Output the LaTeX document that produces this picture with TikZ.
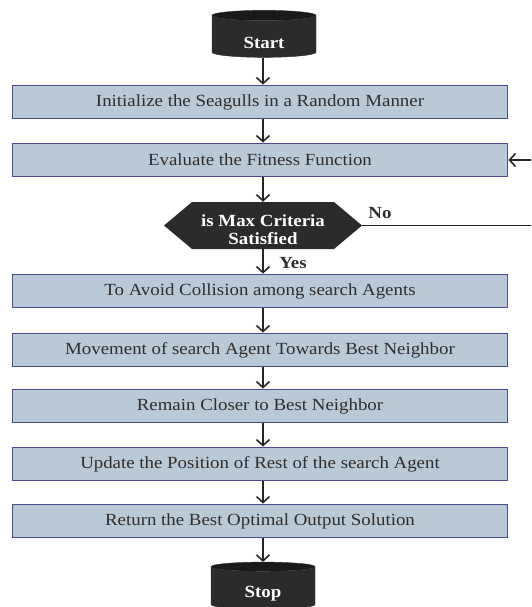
\documentclass[tikz,border=0pt]{standalone}
\usepackage{fontspec}
\setmainfont[FakeStretch=1.11]{Liberation Serif}
\usepackage{tikz}
\usetikzlibrary{shapes.geometric, shapes.symbols, arrows.meta}
\definecolor{boxfill}{HTML}{B9C9D6}
\definecolor{boxline}{HTML}{4B4B8F}
\definecolor{term}{HTML}{2B2B2B}
\definecolor{termtop}{HTML}{1A1A1A}
\definecolor{txt}{HTML}{2E2E2E}
\newcommand{\lowertext}[1]{\raisebox{0pt}[\dimexpr\height+12pt\relax]{#1}}

\begin{document}
\begin{tikzpicture}[x=1pt, y=-1pt,
  stepbox/.style={draw=boxline, line width=1.8pt, fill=boxfill, minimum width=495pt,
    minimum height=33pt, inner sep=0pt, text=txt, font=\fontsize{17}{19}\selectfont},
  terminal/.style={cylinder, shape border rotate=90, aspect=0.25, draw=term,
    cylinder uses custom fill, cylinder body fill=term, cylinder end fill=termtop,
    minimum width=104pt, minimum height=47pt, inner sep=0pt, text=white,
    font=\bfseries\fontsize{17}{19}\selectfont},
  decision/.style={signal, signal to=east and west, signal pointer angle=80, fill=term,
    minimum width=198pt, minimum height=47pt, inner sep=0pt, text=white, align=center,
    font=\bfseries\fontsize{17}{18}\selectfont},
  flow/.style={-{Straight Barb[length=6pt,width=13pt]}, line width=1.6pt, black!85}]
\useasboundingbox (0,0) rectangle (531,607);
\clip (0,0) rectangle (531,607);

% terminals and process steps
\node[terminal] (start) at (264,36.5) {\lowertext{Start}};
\node[stepbox] (init) at (260,102) {Initialize the Seagulls in a Random Manner};
\node[stepbox] (eval) at (260,160) {Evaluate the Fitness Function};
\node[decision] (crit) at (263,225.5) {\rule{0pt}{20pt}is Max Criteria\\Satisfied};
\node[stepbox] (avoid) at (260,291) {To Avoid Collision among search Agents};
\node[stepbox] (move) at (260,350) {Movement of search Agent Towards Best Neighbor};
\node[stepbox] (remain) at (260,406) {Remain Closer to Best Neighbor};
\node[stepbox] (update) at (260,464) {Update the Position of Rest of the search Agent};
\node[stepbox] (ret) at (260,521) {Return the Best Optimal Output Solution};
\node[terminal] (stop) at (263,588) {\lowertext{Stop}};

% branch labels
\node[font=\bfseries\fontsize{17}{19}\selectfont, text=txt] (no) at (380,213) {No};
\node[font=\bfseries\fontsize{17}{19}\selectfont, text=txt] (yes) at (293,263) {Yes};

\draw[flow] (start.south -| crit) -- (init.north -| crit);
\draw[flow] (init.south -| crit) -- (eval.north -| crit);
\draw[flow] (eval.south -| crit) -- (crit.north);
\draw[flow] (crit.south) -- (avoid.north -| crit);
\draw[flow] (avoid.south -| crit) -- (move.north -| crit);
\draw[flow] (move.south -| crit) -- (remain.north -| crit);
\draw[flow] (remain.south -| crit) -- (update.north -| crit);
\draw[flow] (update.south -| crit) -- (ret.north -| crit);
\draw[flow] (ret.south -| crit) -- (stop.north -| crit);

% loop back, its vertical part lies past the right edge
\coordinate (back) at (545,225.5);
\draw[flow] (crit.east) -- (back) |- (eval.east);
\end{tikzpicture}
\end{document}
